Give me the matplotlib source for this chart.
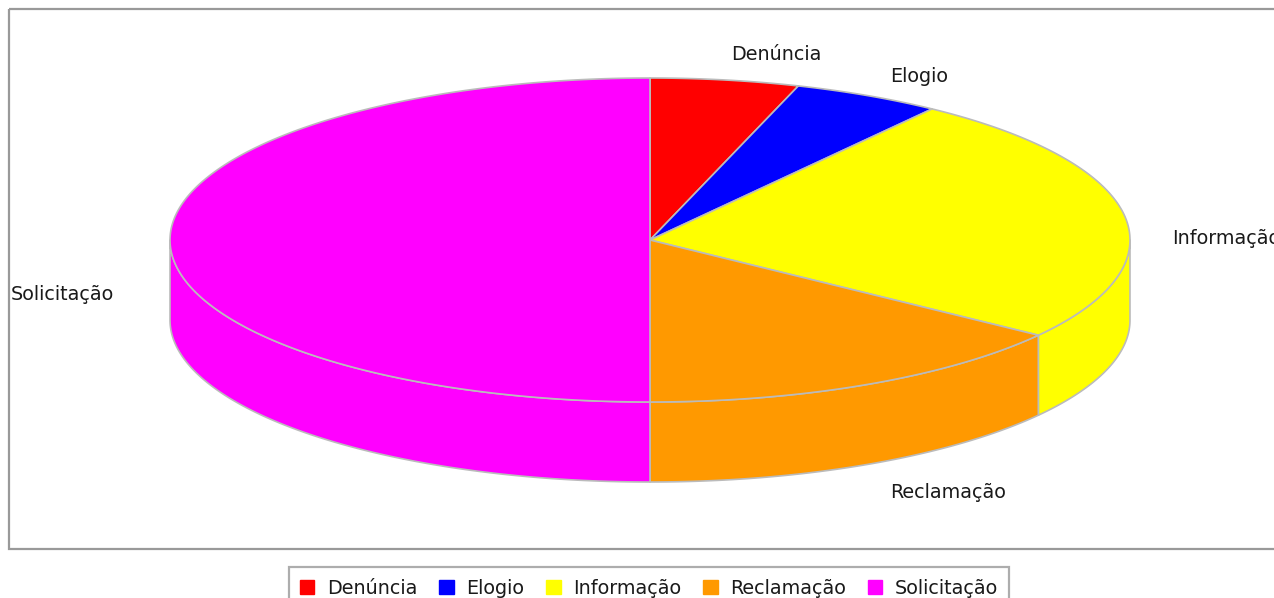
import numpy as np
import matplotlib.pyplot as plt
from matplotlib.patches import Polygon, Rectangle, Patch

categories = ["Denúncia", "Elogio", "Informação", "Reclamação", "Solicitação"]
counts = [2, 2, 10, 6, 20]
colors = ["#FF0000", "#0000FF", "#FFFF00", "#FF9900", "#FF00FF"]

# pie geometry in pixels
cx, cy = 650, 240
rx, ry = 480, 162
depth = 80
edge = "#BBBBBB"


def arc(t0, t1, dy=0, n=200):
    t = np.radians(np.linspace(t0, t1, n))
    return np.column_stack([cx + rx * np.cos(t), cy - ry * np.sin(t) + dy])


fig = plt.figure(figsize=(12.74, 5.98), dpi=100)
ax = fig.add_axes([0, 0, 1, 1])
ax.set_xlim(0, 1274)
ax.set_ylim(598, 0)
ax.axis("off")

ax.add_patch(Rectangle((8.5, 9), 1300, 540, fill=False, edgecolor="#999999", lw=1.6))

fr = np.cumsum([0] + counts) / float(sum(counts))
starts = 90 - fr[:-1] * 360
ends = 90 - fr[1:] * 360

# front sides
for s, e, c in zip(starts, ends, colors):
    for lo, hi in [(-180, 0), (-540, -360), (180, 360)]:
        a0, a1 = min(s, hi), max(e, lo)
        if a0 > a1:
            top = arc(a0, a1)
            bot = arc(a1, a0, dy=depth)
            ax.add_patch(Polygon(np.vstack([top, bot]), closed=True, facecolor=c,
                                 edgecolor=edge, lw=1.2, joinstyle="round"))

# tops
for s, e, c in zip(starts, ends, colors):
    pts = np.vstack([[cx, cy], arc(s, e)])
    ax.add_patch(Polygon(pts, closed=True, facecolor=c, edgecolor=edge, lw=1.2,
                         joinstyle="round"))

lab_font = dict(fontsize=13.8, color="#1a1a1a", va="center", ha="left")
label_pos = [(731, 54), (890, 76), (1172, 239), (890, 493), (11, 295)]
for name, (x, y) in zip(categories, label_pos):
    ax.text(x, y, name, **lab_font)

handles = [Patch(facecolor=c, edgecolor=c) for c in colors]
leg = fig.legend(handles, categories, loc="upper center", ncol=5,
                 bbox_to_anchor=(649 / 1274., 1 - 567 / 598.), fontsize=13.8,
                 frameon=True, fancybox=False, edgecolor="#999999",
                 handlelength=0.75, handleheight=0.75, handletextpad=0.65,
                 columnspacing=1.15, borderpad=0.6, borderaxespad=0)
leg.get_frame().set_linewidth(1.6)
for t in leg.get_texts():
    t.set_color("#1a1a1a")

plt.savefig("out.png", dpi=100)
